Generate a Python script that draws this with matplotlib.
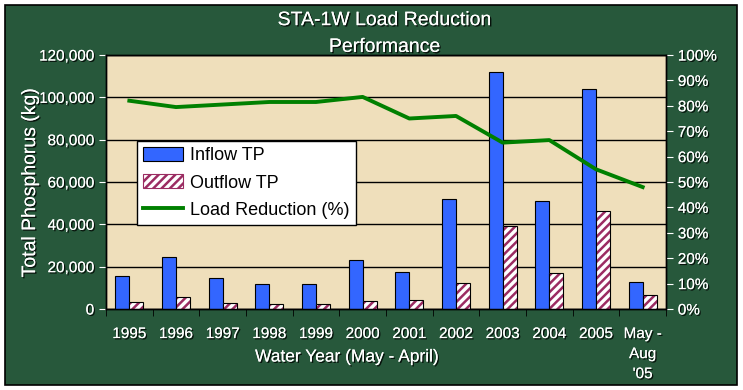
import numpy as np
import matplotlib.pyplot as plt
import matplotlib.patheffects as pe
from matplotlib.patches import Rectangle
from matplotlib.ticker import FuncFormatter, MultipleLocator

plt.rcParams['font.family'] = ['Liberation Sans', 'DejaVu Sans']
plt.rcParams['hatch.linewidth'] = 1.8

# data
years = ["1995", "1996", "1997", "1998", "1999", "2000", "2001",
         "2002", "2003", "2004", "2005", "May -\nAug\n'05"]
inflow_tp = [15500, 24500, 14600, 11800, 11800, 23000, 17400,
             52000, 112000, 50800, 104000, 12700]
outflow_tp = [3300, 5600, 3000, 2200, 2200, 4000, 4400,
              12500, 39000, 17000, 46500, 6800]
load_reduction = [82, 79.5, 80.5, 81.5, 81.5, 83.5, 75,
                  76, 65.5, 66.5, 55, 48]

GREEN_BG = '#27583b'
PLOT_BG = '#efdfbb'
HATCH = '#9b2c62'
shadow = [pe.withSimplePatchShadow(offset=(1, -1), shadow_rgbFace='black', alpha=0.8), pe.Normal()]

fig = plt.figure(figsize=(7.43, 3.9), dpi=100)
fig.patch.set_facecolor('white')
fig.patches.append(Rectangle((5 / 743, 5 / 390), 732 / 743, 380 / 390,
                             transform=fig.transFigure, facecolor=GREEN_BG,
                             edgecolor='black', linewidth=1.2, zorder=-10))

ax = fig.add_axes([106 / 743, 1 - 309 / 390, 560 / 743, 254 / 390])
ax.set_facecolor(PLOT_BG)

x = np.arange(len(years))
w = 0.3
ax.bar(x - w / 2, inflow_tp, w, color='#3366ff', edgecolor='black',
       linewidth=0.8, label='Inflow TP', zorder=3)
# hatch takes the edge colour, so draw the black outline on top separately
ax.bar(x + w / 2, outflow_tp, w, color='white', edgecolor=HATCH,
       linewidth=0, hatch='////', zorder=3)
ax.bar(x + w / 2, outflow_tp, w, color='none', edgecolor='black',
       linewidth=0.8, zorder=3.5)

ax.set_ylim(0, 120000)
ax.set_xlim(-0.5, len(years) - 0.5)
ax.yaxis.set_major_locator(MultipleLocator(20000))
ax.yaxis.set_major_formatter(FuncFormatter(lambda v, p: f"{int(v):,}"))
ax.grid(axis='y', color='black', linewidth=1, zorder=1)
ax.set_axisbelow(True)

ax.set_xticks(x)
ax.set_xticklabels(years, color='white', fontsize=11, va='top', linespacing=1.55)
ax.set_xticks(np.arange(-0.5, len(years)), minor=True)
ax.tick_params(axis='x', which='major', length=0, pad=13)
ax.tick_params(axis='x', which='minor', length=5, direction='out', color='black')
ax.tick_params(axis='y', colors='white', labelsize=11, length=5, direction='out')
for t in ax.get_yticklabels() + ax.get_xticklabels():
    t.set_path_effects(shadow)
for tl in ax.yaxis.get_ticklines():
    tl.set_color('black')

ax2 = ax.twinx()
ax2.plot(x, load_reduction, color='#008000', linewidth=2.8,
         label='Load Reduction (%)', zorder=4)
ax2.set_ylim(0, 100)
ax2.yaxis.set_major_locator(MultipleLocator(10))
ax2.yaxis.set_major_formatter(FuncFormatter(lambda v, p: f"{int(v)}%"))
ax2.tick_params(axis='y', colors='white', labelsize=11, length=5, direction='out')
for tl in ax2.yaxis.get_ticklines():
    tl.set_color('black')
for t in ax2.get_yticklabels():
    t.set_path_effects(shadow)

for a in (ax, ax2):
    for s in a.spines.values():
        s.set_color('black')
        s.set_linewidth(1)

ax.set_ylabel('Total Phosphorus (kg)', color='white', fontsize=14, labelpad=0)
ax.yaxis.label.set_path_effects(shadow)
fig.text(347 / 743, 1 - 357 / 390, 'Water Year (May - April)', color='white',
         fontsize=12.5, ha='center', va='center', path_effects=shadow)

fig.text(385 / 743, 1 - 34 / 390, 'STA-1W Load Reduction\nPerformance', color='white',
         fontsize=14, ha='center', va='center', linespacing=1.75,
         path_effects=shadow)

# legend handles
h_in = Rectangle((0, 0), 1, 1, facecolor='#3366ff', edgecolor='black', linewidth=0.8)
h_out = Rectangle((0, 0), 1, 1, facecolor='white', edgecolor=HATCH, hatch='////', linewidth=0.8)
h_line = ax2.get_lines()[0]
leg = ax2.legend([h_in, h_out, h_line], ['Inflow TP', 'Outflow TP', 'Load Reduction (%)'],
                 loc='upper left', bbox_to_anchor=(31 / 560, 1 - 86 / 254), fontsize=13,
                 frameon=True, fancybox=False, framealpha=1,
                 edgecolor='black', handlelength=2.2, handleheight=0.8, borderpad=0.35,
                 labelspacing=0.55, handletextpad=0.4, borderaxespad=0)
leg.get_frame().set_linewidth(1)

fig.savefig('out.png', dpi=100, facecolor=fig.get_facecolor())
